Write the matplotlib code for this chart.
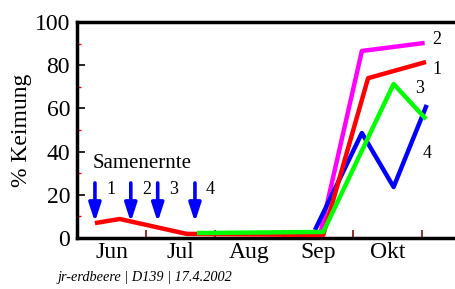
import matplotlib
matplotlib.use("Agg")
import matplotlib.pyplot as plt

plt.rcParams['font.family'] = ['Liberation Serif', 'DejaVu Serif']

# x in months since 1 June, y in % germination
months = ["Jun", "Jul", "Aug", "Sep", "Okt"]

x1 = [0.26, 0.62, 1.59, 3.57, 4.22, 5.06]
y1 = [6.9, 8.8, 1.9, 1.4, 74.0, 81.5]

x2 = [3.52, 4.13, 5.04]
y2 = [1.0, 86.6, 90.3]

x3 = [1.74, 3.57, 4.59, 5.06]
y3 = [2.3, 2.8, 71.3, 55.0]

x4 = [3.45, 4.13, 4.59, 5.07]
y4 = [3.7, 48.6, 23.6, 61.6]

harvest_x = [0.26, 0.78, 1.17, 1.71]
harvest_lbl = ["1", "2", "3", "4"]

fig = plt.figure(figsize=(4.55, 2.89), dpi=100)
ax = fig.add_axes([77/455, 1 - 238/289, 1 - 77/455, (238 - 22)/289])

ax.plot(x1, y1, color='#ff0000', lw=3.2, solid_capstyle='butt', zorder=3)
ax.plot(x2, y2, color='#ff00ff', lw=3.2, solid_capstyle='butt', zorder=2)
ax.plot(x4, y4, color='#0000ff', lw=3.2, solid_capstyle='butt', zorder=2)
ax.plot(x3, y3, color='#00ff00', lw=3.2, solid_capstyle='butt', zorder=4)

ax.text(5.15, 91.7, "2", fontsize=13, va='center')
ax.text(5.15, 77.8, "1", fontsize=13, va='center')
ax.text(4.90, 69.4, "3", fontsize=13, va='center')
ax.text(5.01, 38.9, "4", fontsize=13, va='center')

for hx, lbl in zip(harvest_x, harvest_lbl):
    ax.annotate("", xy=(hx, 7.4), xytext=(hx, 25.5),
                arrowprops=dict(arrowstyle='-|>,head_width=0.36,head_length=1.1',
                                color='#0000ff', lw=2.6, shrinkA=0, shrinkB=0,
                                mutation_scale=10),
                zorder=5)
    ax.text(hx + 0.16, 22.3, lbl, fontsize=13, va='center')
ax.text(0.22, 34.5, "Samenernte", fontsize=15, va='center')

ax.set_xlim(0, 5.48)
ax.set_ylim(0, 100)

ax.set_yticks(range(0, 101, 20))
ax.set_yticks(range(10, 100, 20), minor=True)
ax.tick_params(axis='y', which='major', direction='in', length=6, width=1.2,
               color='black', labelsize=17, pad=5)
ax.tick_params(axis='y', which='minor', direction='in', length=3, width=1.0,
               color='#ff0000')

ax.set_xticks([1, 2, 3, 4, 5])
ax.set_xticklabels([])
ax.set_xticks([0.5, 1.5, 2.5, 3.5, 4.5], minor=True)
ax.set_xticklabels(months, minor=True)
ax.tick_params(axis='x', which='major', direction='in', length=6, width=1.2,
               color='#7a1010')
ax.tick_params(axis='x', which='minor', length=0, labelsize=17, pad=3)

for s in ['left', 'bottom', 'top']:
    ax.spines[s].set_linewidth(2.5)
ax.spines['right'].set_visible(False)

ax.set_ylabel("% Keimung", fontsize=17, labelpad=2)

fig.text(58/455, 1 - 278/289, "jr-erdbeere | D139 | 17.4.2002",
         fontsize=10.3, style='italic', va='center')

fig.savefig("out.png", dpi=100)
